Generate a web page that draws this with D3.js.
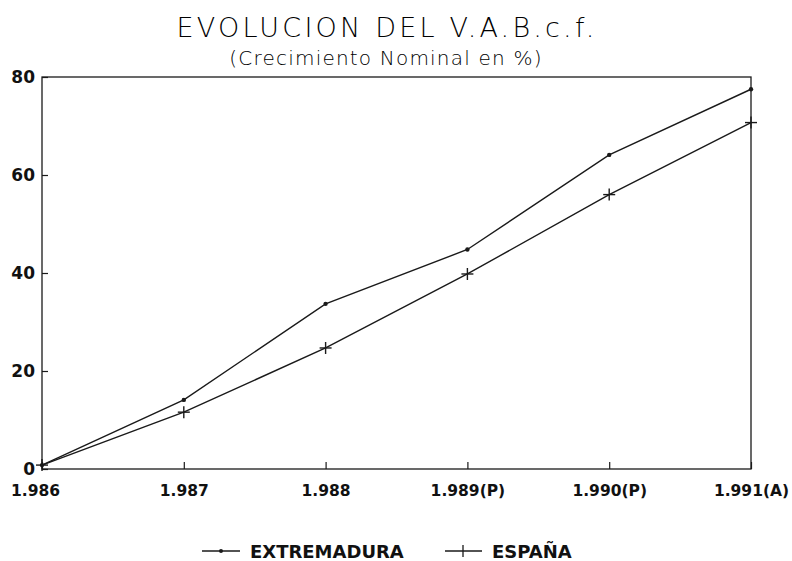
<!DOCTYPE html>
<html><head><meta charset="utf-8">
<script src="https://cdn.jsdelivr.net/npm/d3@7"></script>
<style>body{margin:0;background:#fff}svg{display:block}</style>
</head><body>
<svg id="c" width="792" height="561"></svg>
<script>
const categories = ["1.986","1.987","1.988","1.989(P)","1.990(P)","1.991(A)"];
const extremadura = [0.8, 14.1, 33.7, 44.8, 64.1, 77.5];
const espana = [0.8, 11.6, 24.7, 39.8, 56.0, 70.7];
const yTicks = [0, 20, 40, 60, 80];
const seriesNames = ["EXTREMADURA", "ESPAÑA"];

const svg = d3.select("#c");
const L = 42, R = 751, T = 77, B = 469;
const ink = "#1a1a1a";
const boldFont = "DejaVu Sans, Verdana, sans-serif";
const x = d3.scalePoint().domain(categories).range([L, R]);
const y = d3.scaleLinear().domain([0, 80]).range([B, T]);

// titles
svg.append("text").attr("x", 387).attr("y", 37).attr("text-anchor", "middle")
  .attr("font-family", "DejaVu Sans, sans-serif").attr("font-size", 27)
  .attr("font-weight", 200).attr("letter-spacing", 3.2).attr("fill", "#000")
  .text("EVOLUCION DEL V.A.B.c.f.");
svg.append("text").attr("x", 386).attr("y", 65).attr("text-anchor", "middle")
  .attr("font-family", "DejaVu Sans, sans-serif").attr("font-size", 20)
  .attr("font-weight", 200).attr("letter-spacing", 1.2).attr("fill", "#000")
  .text("(Crecimiento Nominal en %)");

// frame
svg.append("rect").attr("x", L).attr("y", T).attr("width", R - L).attr("height", B - T)
  .attr("fill", "none").attr("stroke", ink).attr("stroke-width", 1.3);

// y axis (ticks inside)
const yAxis = d3.axisLeft(y).tickValues(yTicks).tickSizeInner(-6).tickSizeOuter(0).tickPadding(12);
const gy = svg.append("g").attr("transform", `translate(${L},0)`).call(yAxis);
gy.select(".domain").remove();
gy.selectAll(".tick line").attr("stroke", ink).attr("stroke-width", 1.2);
gy.selectAll(".tick text").attr("font-family", boldFont)
  .attr("font-size", 17).attr("font-weight", "bold").attr("fill", "#111").attr("x", -7);

// x axis (ticks inside)
const xAxis = d3.axisBottom(x).tickSizeInner(-7).tickSizeOuter(0).tickPadding(16);
const gx = svg.append("g").attr("transform", `translate(0,${B})`).call(xAxis);
gx.select(".domain").remove();
gx.selectAll(".tick line").attr("stroke", ink).attr("stroke-width", 1.2);
gx.selectAll(".tick text").attr("font-family", boldFont)
  .attr("font-size", 15.5).attr("font-weight", "bold").attr("fill", "#111")
  .attr("dy", "0.71em").attr("y", 16)
  .attr("dx", (d, i) => i === 0 ? -7 : 0);

// lines
const line = d3.line().x((d, i) => x(categories[i])).y(d => y(d));
[extremadura, espana].forEach(s => {
  svg.append("path").datum(s).attr("d", line).attr("fill", "none")
    .attr("stroke", ink).attr("stroke-width", 1.4);
});
// markers
svg.append("g").selectAll("circle").data(extremadura).join("circle")
  .attr("cx", (d, i) => x(categories[i])).attr("cy", d => y(d)).attr("r", 2.2).attr("fill", ink);
const plus = svg.append("g");
espana.forEach((d, i) => {
  const cx = x(categories[i]), cy = y(d);
  plus.append("line").attr("x1", cx - 6).attr("x2", cx + 6).attr("y1", cy).attr("y2", cy)
    .attr("stroke", ink).attr("stroke-width", 1.4);
  plus.append("line").attr("x1", cx).attr("x2", cx).attr("y1", cy - 6).attr("y2", cy + 6)
    .attr("stroke", ink).attr("stroke-width", 1.4);
});

// legend
const ly = 551;
const lg = svg.append("g");
lg.append("line").attr("x1", 202).attr("x2", 240).attr("y1", ly).attr("y2", ly).attr("stroke", ink).attr("stroke-width", 1.3);
lg.append("circle").attr("cx", 221).attr("cy", ly).attr("r", 2).attr("fill", ink);
lg.append("text").attr("x", 250).attr("y", ly + 6.5).text(seriesNames[0]);
lg.append("line").attr("x1", 445).attr("x2", 482).attr("y1", ly).attr("y2", ly).attr("stroke", ink).attr("stroke-width", 1.3);
lg.append("line").attr("x1", 463).attr("x2", 463).attr("y1", ly - 6).attr("y2", ly + 6).attr("stroke", ink).attr("stroke-width", 1.3);
lg.append("text").attr("x", 492).attr("y", ly + 6.5).text(seriesNames[1]);
lg.selectAll("text").attr("font-family", boldFont).attr("font-size", 18)
  .attr("font-weight", "bold").attr("fill", "#111");
</script>
</body></html>
